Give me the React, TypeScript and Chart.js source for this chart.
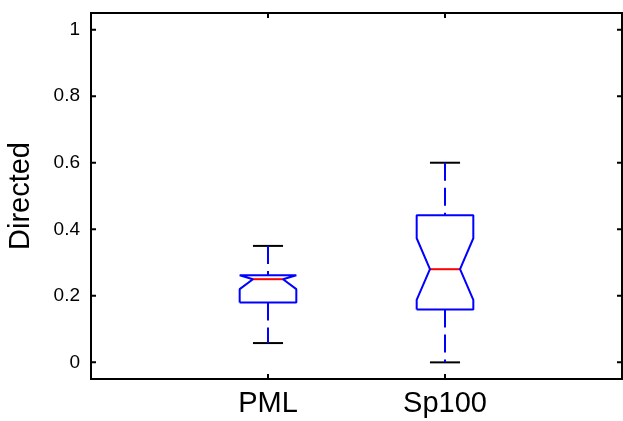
import React, { useEffect, useRef } from "react";
import { Chart, registerables } from "chart.js";

Chart.register(...registerables);

// ---- data ----
const categories = ["PML", "Sp100"];
const positions = [1, 2];
const whiskerHigh = [0.35, 0.6];
const upperQuartile = [0.262, 0.442];
const notchHigh = [0.262, 0.373];
const medians = [0.25, 0.28];
const notchLow = [0.22, 0.188];
const lowerQuartile = [0.18, 0.159];
const whiskerLow = [0.058, 0.0];

const yTickValues = [0, 0.2, 0.4, 0.6, 0.8, 1];
const yTickLabels = ["0", "0.2", "0.4", "0.6", "0.8", "1"];

const BOX_HALF = 0.16;
const NOTCH_HALF = 0.085;
const CAP_HALF = 0.085;
const BLUE = "#0000ff";
const RED = "#ff0000";

function buildDatasets() {
  const ds: any[] = [];
  positions.forEach((x, i) => {
    const w = BOX_HALF, n = NOTCH_HALF, c = CAP_HALF;
    ds.push({
      data: [{ x, y: whiskerHigh[i] }, { x, y: upperQuartile[i] }],
      borderColor: BLUE, borderWidth: 2, borderDash: [18, 7],
    });
    ds.push({
      data: [{ x, y: lowerQuartile[i] }, { x, y: whiskerLow[i] }],
      borderColor: BLUE, borderWidth: 2, borderDash: [18, 7],
    });
    ds.push({
      data: [{ x: x - c, y: whiskerHigh[i] }, { x: x + c, y: whiskerHigh[i] }],
      borderColor: "#000", borderWidth: 2,
    });
    ds.push({
      data: [{ x: x - c, y: whiskerLow[i] }, { x: x + c, y: whiskerLow[i] }],
      borderColor: "#000", borderWidth: 2,
    });
    ds.push({
      data: [
        { x: x - w, y: lowerQuartile[i] },
        { x: x - w, y: notchLow[i] },
        { x: x - n, y: medians[i] },
        { x: x - w, y: notchHigh[i] },
        { x: x - w, y: upperQuartile[i] },
        { x: x + w, y: upperQuartile[i] },
        { x: x + w, y: notchHigh[i] },
        { x: x + n, y: medians[i] },
        { x: x + w, y: notchLow[i] },
        { x: x + w, y: lowerQuartile[i] },
        { x: x - w, y: lowerQuartile[i] },
      ],
      borderColor: BLUE, borderWidth: 2, borderJoinStyle: "bevel",
    });
    ds.push({
      data: [{ x: x - n, y: medians[i] }, { x: x + n, y: medians[i] }],
      borderColor: RED, borderWidth: 2,
    });
  });
  return ds.map((d) => ({
    ...d,
    showLine: true,
    fill: false,
    pointRadius: 0,
    pointHoverRadius: 0,
    tension: 0,
  }));
}

const framePlugin = {
  id: "matlabFrame",
  afterDraw(chart: any) {
    const { ctx, chartArea: a, scales } = chart;
    const xs = scales.x, ys = scales.y;
    ctx.save();
    ctx.strokeStyle = "#000";
    ctx.lineWidth = 2;
    ctx.strokeRect(a.left, a.top, a.right - a.left, a.bottom - a.top);
    const tl = 5;
    ctx.beginPath();
    yTickValues.forEach((v) => {
      const py = ys.getPixelForValue(v);
      ctx.moveTo(a.left, py);
      ctx.lineTo(a.left + tl, py);
      ctx.moveTo(a.right, py);
      ctx.lineTo(a.right - tl, py);
    });
    positions.forEach((v) => {
      const px = xs.getPixelForValue(v);
      ctx.moveTo(px, a.bottom);
      ctx.lineTo(px, a.bottom - tl);
      ctx.moveTo(px, a.top);
      ctx.lineTo(px, a.top + tl);
    });
    ctx.stroke();
    ctx.restore();
  },
};

export default function App() {
  const ref = useRef<HTMLCanvasElement>(null);
  useEffect(() => {
    if (!ref.current) return;
    const chart = new Chart(ref.current, {
      type: "scatter",
      data: { datasets: buildDatasets() },
      options: {
        animation: false,
        responsive: false,
        devicePixelRatio: 1,
        layout: { padding: { top: 13, right: 1, left: 0, bottom: 0 } },
        plugins: { legend: { display: false }, tooltip: { enabled: false } },
        scales: {
          x: {
            type: "linear",
            min: 0,
            max: 3,
            grid: { display: false, drawTicks: false },
            border: { display: false },
            afterBuildTicks: (s: any) => {
              s.ticks = positions.map((v) => ({ value: v }));
            },
            afterFit: (s: any) => {
              s.height = 42;
              s.paddingLeft = 0;
              s.paddingRight = 0;
            },
            ticks: {
              padding: 8,
              color: "#000",
              font: { family: "'Liberation Sans', Arial, sans-serif", size: 29 },
              callback: (v: any) => {
                const i = positions.indexOf(Number(v));
                return i >= 0 ? categories[i] : "";
              },
            },
          },
          y: {
            type: "linear",
            min: -0.05,
            max: 1.05,
            grid: { display: false, drawTicks: false },
            border: { display: false },
            afterBuildTicks: (s: any) => {
              s.ticks = yTickValues.map((v) => ({ value: v }));
            },
            afterFit: (s: any) => {
              s.width = 91;
              s.paddingTop = 0;
              s.paddingBottom = 0;
            },
            title: {
              display: true,
              text: "Directed",
              color: "#000",
              padding: { top: 4, bottom: 0 },
              font: { family: "'Liberation Sans', Arial, sans-serif", size: 29 },
            },
            ticks: {
              padding: 11,
              color: "#000",
              font: { family: "'Liberation Sans', Arial, sans-serif", size: 19 },
              callback: (v: any) => {
                const i = yTickValues.findIndex((t) => Math.abs(t - Number(v)) < 1e-9);
                return i >= 0 ? yTickLabels[i] : "";
              },
            },
          },
        },
      },
      plugins: [framePlugin],
    });
    return () => chart.destroy();
  }, []);
  return (
    <div style={{ position: "fixed", left: 0, top: 0, width: 623, height: 421, background: "#fff" }}>
      <canvas ref={ref} width={623} height={421} />
    </div>
  );
}
